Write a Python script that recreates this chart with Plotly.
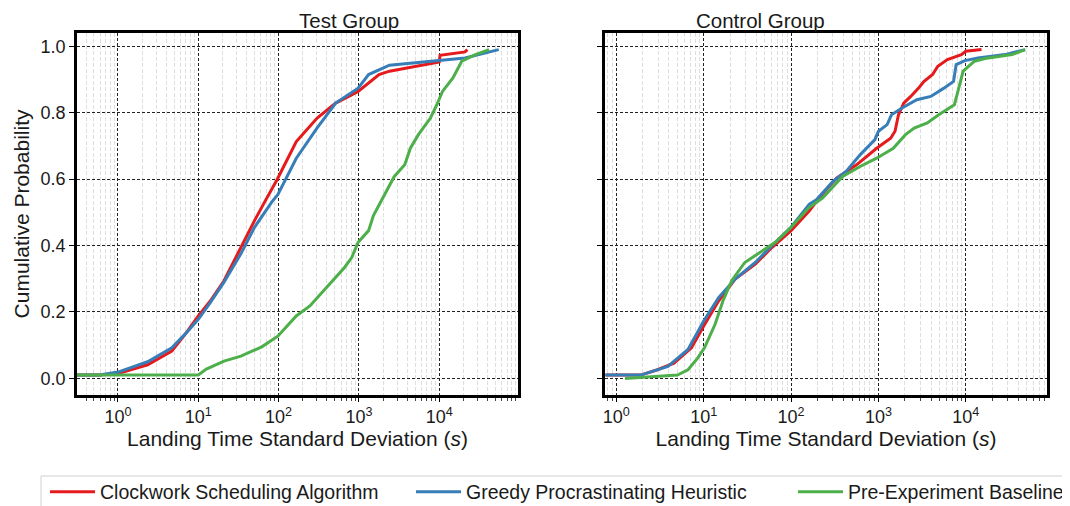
import plotly.graph_objects as go

# ---- data ----
series_names = ["Clockwork Scheduling Algorithm", "Greedy Procrastinating Heuristic", "Pre-Experiment Baseline"]
series_colors = ["#e41a1c", "#377eb8", "#4daf4a"]

test_red_x = [0.31, 0.59, 1.0, 2.34, 4.68, 7.08, 10, 14.1, 20.9, 33.9, 50.1, 67.6, 95.5, 166, 302, 513, 977, 1778, 2399, 10000, 10230, 20900, 22390]
test_red_y = [0.01, 0.01, 0.015, 0.041, 0.082, 0.137, 0.188, 0.233, 0.294, 0.395, 0.475, 0.533, 0.598, 0.713, 0.784, 0.829, 0.864, 0.915, 0.925, 0.953, 0.973, 0.983, 0.99]
test_blue_x = [0.31, 0.59, 1.0, 2.34, 4.68, 7.08, 10, 14.1, 20.9, 33.9, 50.1, 83.2, 97.7, 166, 302, 513, 977, 1318, 2399, 10000, 20900, 54950]
test_blue_y = [0.01, 0.01, 0.019, 0.05, 0.092, 0.137, 0.178, 0.228, 0.29, 0.375, 0.455, 0.533, 0.553, 0.663, 0.754, 0.829, 0.874, 0.915, 0.943, 0.957, 0.965, 0.99]
test_green_x = [0.31, 10, 12.6, 20.9, 33.9, 61.7, 97.7, 166, 245, 407, 661, 813, 977, 1318, 1514, 1950, 2754, 3715, 4365, 5495, 7762, 9333, 10960, 14790, 19050, 28180, 41690]
test_green_y = [0.01, 0.01, 0.028, 0.052, 0.067, 0.095, 0.127, 0.188, 0.218, 0.279, 0.334, 0.364, 0.41, 0.445, 0.49, 0.54, 0.608, 0.643, 0.693, 0.734, 0.784, 0.824, 0.864, 0.905, 0.955, 0.975, 0.99]

ctrl_red_x = [0.75, 1.9, 2.95, 4.57, 7.24, 10, 14.8, 22.9, 38.9, 60.3, 100, 162, 209, 331, 562, 955, 1380, 1549, 1698, 1950, 2344, 2884, 3311, 4169, 4786, 6166, 8913, 10000, 15140]
ctrl_red_y = [0.01, 0.01, 0.026, 0.046, 0.092, 0.158, 0.233, 0.299, 0.344, 0.394, 0.445, 0.505, 0.543, 0.603, 0.643, 0.693, 0.723, 0.744, 0.794, 0.829, 0.849, 0.874, 0.894, 0.915, 0.94, 0.96, 0.975, 0.985, 0.99]
ctrl_blue_x = [0.75, 1.9, 3.89, 6.61, 10, 14.8, 22.9, 38.9, 66.1, 100, 162, 195, 302, 427, 617, 912, 1000, 1259, 1413, 1862, 2754, 3981, 5623, 7244, 7762, 9772, 13800, 28180, 47860]
ctrl_blue_y = [0.01, 0.01, 0.036, 0.087, 0.173, 0.243, 0.299, 0.349, 0.41, 0.455, 0.525, 0.538, 0.593, 0.623, 0.673, 0.719, 0.744, 0.764, 0.794, 0.814, 0.839, 0.849, 0.874, 0.894, 0.945, 0.957, 0.965, 0.975, 0.99]
ctrl_green_x = [1.26, 5.0, 6.61, 8.51, 10.2, 13.5, 16.6, 20.9, 29.5, 46.8, 66.1, 100, 162, 229, 389, 617, 955, 1479, 2042, 2570, 3631, 4898, 7413, 8128, 9333, 12590, 16600, 33880, 47860]
ctrl_green_y = [0.0, 0.01, 0.026, 0.061, 0.092, 0.163, 0.233, 0.294, 0.349, 0.384, 0.41, 0.455, 0.515, 0.543, 0.608, 0.638, 0.663, 0.693, 0.734, 0.754, 0.769, 0.794, 0.824, 0.864, 0.925, 0.955, 0.963, 0.975, 0.99]

x_tick_vals = [1, 10, 100, 1000, 10000]
x_tick_text = ["10<sup>0</sup>", "10<sup>1</sup>", "10<sup>2</sup>", "10<sup>3</sup>", "10<sup>4</sup>"]
y_tick_vals = [0.0, 0.2, 0.4, 0.6, 0.8, 1.0]
y_tick_text = ["0.0", "0.2", "0.4", "0.6", "0.8", "1.0"]
minor_vals = [m * 10 ** k for k in range(-1, 5) for m in range(2, 10)]

panels = [
    ("x", "y", [(test_red_x, test_red_y), (test_blue_x, test_blue_y), (test_green_x, test_green_y)]),
    ("x2", "y2", [(ctrl_red_x, ctrl_red_y), (ctrl_blue_x, ctrl_blue_y), (ctrl_green_x, ctrl_green_y)]),
]
legend_ids = ["legend", "legend2", "legend3"]

fig = go.Figure()
for pi, (xa, ya, data) in enumerate(panels):
    for si, (xs, ys) in enumerate(data):
        fig.add_trace(go.Scatter(
            x=xs, y=ys, mode="lines", xaxis=xa, yaxis=ya,
            name=series_names[si], legendgroup=series_names[si], showlegend=(pi == 0),
            legend=legend_ids[si],
            line=dict(color=series_colors[si], width=3),
        ))

FONT = "Liberation Sans, Arial, sans-serif"
W, H = 1070, 506
OFF = 8  # page body margin of the browser
TXT = "#1a1a1a"

def px(x):
    return (x - OFF) / W

def py(y):
    return 1 - (y - OFF) / H

def xaxis(domain, rng, anchor):
    return dict(
        type="log", domain=domain, range=rng, anchor=anchor, automargin=False,
        tickvals=x_tick_vals, ticktext=x_tick_text, ticks="outside", ticklen=4, tickwidth=1,
        tickcolor="black", tickfont=dict(size=18, color=TXT),
        showline=True, mirror=True, linecolor="black", linewidth=2.5,
        showgrid=True, gridcolor="#222", griddash="3px,2px", gridwidth=0.9,
        zeroline=False,
        minor=dict(tickvals=minor_vals, ticks="outside", ticklen=3, tickcolor="#444",
                   showgrid=True, gridcolor="#dedede", griddash="4px,2px", gridwidth=1.2),
        title=dict(text="Landing Time Standard Deviation (<i>s</i>)", font=dict(size=21, color=TXT), standoff=2),
    )

def yaxis(domain, anchor, labels):
    return dict(
        domain=domain, range=[-0.05, 1.04], anchor=anchor, automargin=False,
        tickvals=y_tick_vals, ticktext=y_tick_text, showticklabels=labels,
        ticks="outside", ticklen=5, tickwidth=1, tickcolor="black",
        tickfont=dict(size=18, color=TXT),
        showline=True, mirror=True, linecolor="black", linewidth=2.5,
        showgrid=True, gridcolor="#222", griddash="3px,2px", gridwidth=0.9,
        zeroline=False,
    )

yd = [py(395), py(33)]
xd1 = [px(77), px(518)]
xd2 = [px(605), px(1047)]

ya1 = yaxis(yd, "x", True)
ya1["title"] = dict(text="Cumulative Probability", font=dict(size=21, color=TXT), standoff=6)

leg_common = dict(orientation="h", xanchor="left", y=py(492), yanchor="middle",
                  borderwidth=0, bgcolor="rgba(0,0,0,0)", font=dict(size=19.5, color=TXT),
                  itemwidth=45)

fig.update_layout(
    width=W, height=H,
    margin=dict(l=0, r=0, t=0, b=0, autoexpand=False),
    paper_bgcolor="white", plot_bgcolor="white",
    font=dict(family=FONT, color=TXT),
    xaxis=xaxis(xd1, [-0.51, 4.98], "y"),
    yaxis=ya1,
    xaxis2=xaxis(xd2, [-0.13, 4.93], "y2"),
    yaxis2=yaxis(yd, "x2", False),
    legend=dict(leg_common, x=px(45)),
    legend2=dict(leg_common, x=px(411)),
    legend3=dict(leg_common, x=px(793)),
    shapes=[dict(type="rect", xref="paper", yref="paper", x0=px(41), x1=1.02, y0=-0.05, y1=py(476),
                 line=dict(color="#d0d0d0", width=1), fillcolor="rgba(0,0,0,0)", layer="below")],
    annotations=[
        dict(text="Test Group", x=(xd1[0] + xd1[1]) / 2, y=1.0, xref="paper", yref="paper",
             showarrow=False, font=dict(size=20.5, color=TXT), yanchor="top", borderpad=0),
        dict(text="Control Group", x=(xd2[0] + xd2[1]) / 2, y=1.0, xref="paper", yref="paper",
             showarrow=False, font=dict(size=20.5, color=TXT), yanchor="top", borderpad=0),
    ],
)

fig.write_html("out.html")
